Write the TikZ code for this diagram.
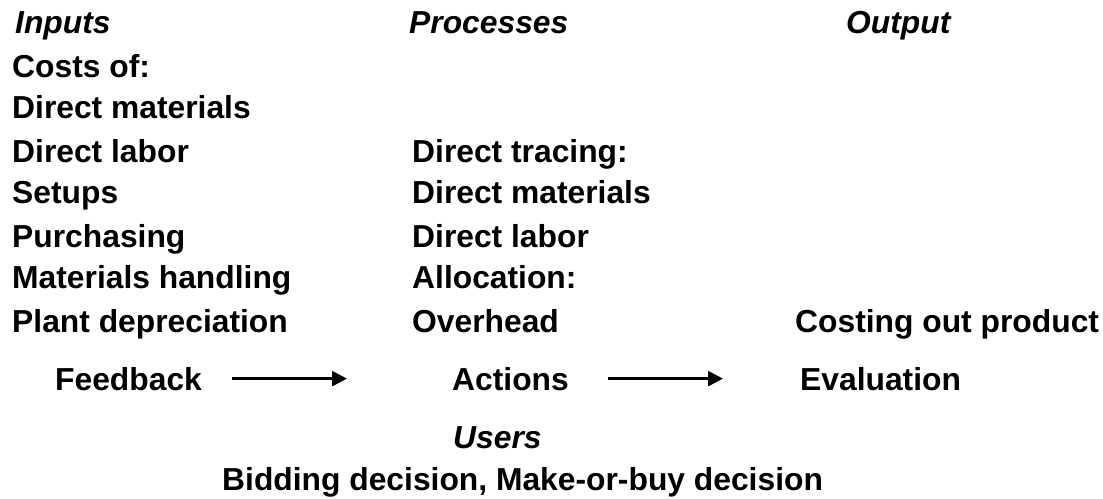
\documentclass[tikz,border=0pt]{standalone}
\usepackage{fontspec}
\setmainfont{Liberation Sans}
\usetikzlibrary{arrows.meta}

\tikzset{
  txt/.style={anchor=base west, inner sep=0pt, font=\bfseries\fontsize{31.8}{38}\selectfont},
  head/.style={txt, font=\bfseries\itshape\fontsize{31.8}{38}\selectfont},
  flow/.style={line width=2.5pt, -{Triangle[length=15pt,width=15pt]}}
}

\begin{document}
\begin{tikzpicture}[x=1pt,y=-1pt]
		\useasboundingbox (0,0) rectangle (1103,498);
		
		%Headings
		\node[head] (inputs) at (15,33) {Inputs};
		\node[head] (processes) at (409,33) {Processes};
		\node[head] (output) at (846,33) {Output};
		
		%Inputs
		\node[txt] (costs) at (12,77) {Costs of:};
		\node[txt] (inmat) at (12,118) {Direct materials};
		\node[txt] (inlab) at (12,162) {Direct labor};
		\node[txt] (setups) at (12,203) {Setups};
		\node[txt] (purch) at (12,247) {Purchasing};
		\node[txt] (handl) at (12,288) {Materials handling};
		\node[txt] (deprec) at (12,332) {Plant depreciation};
		
		%Processes
		\node[txt] (tracing) at (412,162) {Direct tracing:};
		\node[txt] (prmat) at (412,203) {Direct materials};
		\node[txt] (prlab) at (412,247) {Direct labor};
		\node[txt] (alloc) at (412,288) {Allocation:};
		\node[txt] (ovhd) at (412,332) {Overhead};
		
		%Output
		\node[txt] (costing) at (795,332) {Costing out product};
		
		%Cycle
		\node[txt] (fb) at (55,390) {Feedback};
		\node[txt] (act) at (452,390) {Actions};
		\node[txt] (eval) at (800,390) {Evaluation};
		
		\draw[flow, shorten <=30pt, shorten >=105pt] (fb.east) -- (act.west);
		\draw[flow, shorten <=39pt, shorten >=77pt] (act.east) -- (eval.west);
		
		%Users
		\node[head] (users) at (453,448) {Users};
		\node[txt] (decis) at (222,490) {Bidding decision, Make-or-buy decision};
		
\end{tikzpicture}
\end{document}
